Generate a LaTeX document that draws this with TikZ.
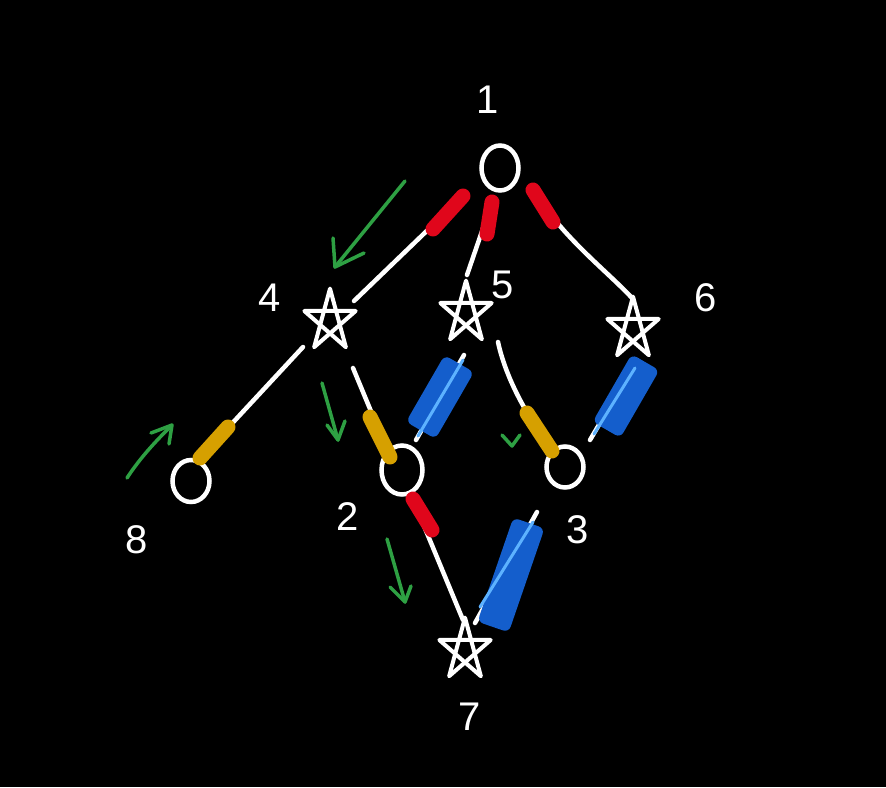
\documentclass[tikz,border=0pt]{standalone}
\usepackage{fontspec}
\setmainfont{Liberation Sans}
\usetikzlibrary{calc,shapes.geometric}
\definecolor{redm}{HTML}{E0061B}
\definecolor{yelm}{HTML}{D6A000}
\definecolor{bluem}{HTML}{145ECC}
\definecolor{lblue}{HTML}{5DB2FF}
\definecolor{grn}{HTML}{2EA043}
\tikzset{
  wire/.style={draw=white, line width=4.5pt, line cap=round},
  ring/.style={draw=white, line width=4.5pt, ellipse, inner sep=0pt},
  vtx/.style={circle, inner sep=0pt, minimum size=2pt},
  lab/.style={text=white, font=\fontsize{40}{40}\selectfont},
  redmark/.style={draw=redm, line width=15pt, line cap=round},
  yelmark/.style={draw=yelm, line width=15pt, line cap=round},
  bluebox/.style={fill=bluem, rounded corners=6pt, inner sep=0pt},
  litewire/.style={draw=lblue, line width=3pt, line cap=round},
  garrow/.style={draw=grn, line width=3.5pt, line cap=round, line join=round},
  pentagram/.pic={\draw[white,line width=4pt,line join=round,line cap=round,yscale=1.2]
     (-90:27) -- (54:27) -- (198:27) -- (342:27) -- (126:27) -- cycle;}
}
\begin{document}
\begin{tikzpicture}[x=1pt,y=-1pt]
\fill[black] (0,0) rectangle (886,787);
\useasboundingbox (0,0) rectangle (886,787);

% vertices
\node[ring, minimum width=37pt, minimum height=45pt] (n1) at (500,168) {};
\node[vtx] (n4) at (330,321) {};
\node[vtx] (n5) at (466,313) {};
\node[vtx] (n6) at (633,329) {};
\node[ring, minimum width=37pt, minimum height=42pt] (n8) at (191,481) {};
\node[ring, minimum width=41pt, minimum height=49pt] (n2) at (402,470) {};
\node[ring, minimum width=37pt, minimum height=41pt] (n3) at (565,467) {};
\node[vtx] (n7) at (465,650) {};
\path (n4) pic {pentagram};
\path (n5) pic {pentagram};
\path (n6) pic {pentagram};
\path (n7) pic {pentagram};

% labels
\node[lab] (l1) at (488,100) {1};
\node[lab] (l4) at (270,298) {4};
\node[lab] (l5) at (503,285) {5};
\node[lab] (l6) at (706,298) {6};
\node[lab] (l8) at (137,540) {8};
\node[lab] (l2) at (348,517) {2};
\node[lab] (l3) at (578,530) {3};
\node[lab] (l7) at (470,717) {7};

% edges
\draw[wire] ($(n1)+(-37,28)$) -- ($(n4)+(24,-20)$);
\draw[redmark] ($(n1)+(-37,28)$) -- ($(n1)+(-67,61)$);

\draw[wire] ($(n1)+(-8,34)$) -- ($(n5)+(1,-38)$);
\draw[redmark] ($(n1)+(-8,34)$) -- ($(n1)+(-13,66)$);

\draw[wire] ($(n1)+(33,22)$) .. controls ($(n1)+(65,72)$) and ($(n6)+(-28,-60)$) .. ($(n6)+(0,-30)$);
\draw[redmark] ($(n1)+(33,22)$) -- ($(n1)+(53,54)$);

\draw[wire] ($(n4)+(-27,26)$) -- ($(n8)+(9,-23)$);
\draw[yelmark] ($(n8)+(37,-54)$) -- ($(n8)+(9,-23)$);

\draw[wire] ($(n4)+(23,47)$) -- ($(n2)+(-12,-13)$);
\draw[yelmark] ($(n2)+(-32,-53)$) -- ($(n2)+(-12,-13)$);

\draw[wire] ($(n5)+(-2,42)$) -- ($(n2)+(14,-30)$);
\node[bluebox, minimum width=34pt, minimum height=77pt, rotate=-30] (b52) at (440,397) {};
\draw[litewire] ($(n5)+(-3,47)$) -- ($(n2)+(16,-34)$);

\draw[wire] ($(n5)+(32,29)$) .. controls ($(n5)+(39,62)$) and ($(n3)+(-40,-52)$) .. ($(n3)+(-12,-17)$);
\draw[yelmark] ($(n3)+(-38,-54)$) -- ($(n3)+(-13,-16)$);

\draw[wire] ($(n6)+(4,31)$) -- ($(n3)+(25,-27)$);
\node[bluebox, minimum width=32pt, minimum height=78pt, rotate=-30] (b63) at (626,396) {};
\draw[litewire] ($(n6)+(2,39)$) -- ($(n3)+(29,-33)$);

\draw[wire] ($(n3)+(-28,45)$) -- ($(n7)+(10,-27)$);
\node[bluebox, minimum width=33pt, minimum height=110pt, rotate=-19] (b37) at (511,575) {};
\draw[litewire] ($(n3)+(-32,55)$) -- ($(n7)+(15,-43)$);

\draw[wire] ($(n2)+(10,27)$) -- ($(n7)+(-2,-30)$);
\draw[redmark] ($(n2)+(11,29)$) -- ($(n2)+(30,60)$);

% green arrows
\coordinate (a1s) at (405,181);
\coordinate (a1t) at (335,267);
\draw[garrow] (a1s) -- (a1t);
\draw[garrow] (333,238) -- (a1t) -- (364,253);

\coordinate (a2s) at (127,478);
\coordinate (a2t) at (172,425);
\draw[garrow] (a2s) .. controls (140,458) and (155,442) .. (a2t);
\draw[garrow] (151,433) -- (a2t) -- (169,444);

\coordinate (a3s) at (322,383);
\coordinate (a3t) at (338,440);
\draw[garrow] (a3s) -- (a3t);
\draw[garrow] (327,425) -- (a3t) -- (345,421);

\coordinate (a4s) at (387,539);
\coordinate (a4t) at (405,602);
\draw[garrow] (a4s) -- (a4t);
\draw[garrow] (390,587) -- (a4t) -- (411,586);

\draw[garrow] (502,435) -- (512,446) -- (520,435);
\end{tikzpicture}
\end{document}
